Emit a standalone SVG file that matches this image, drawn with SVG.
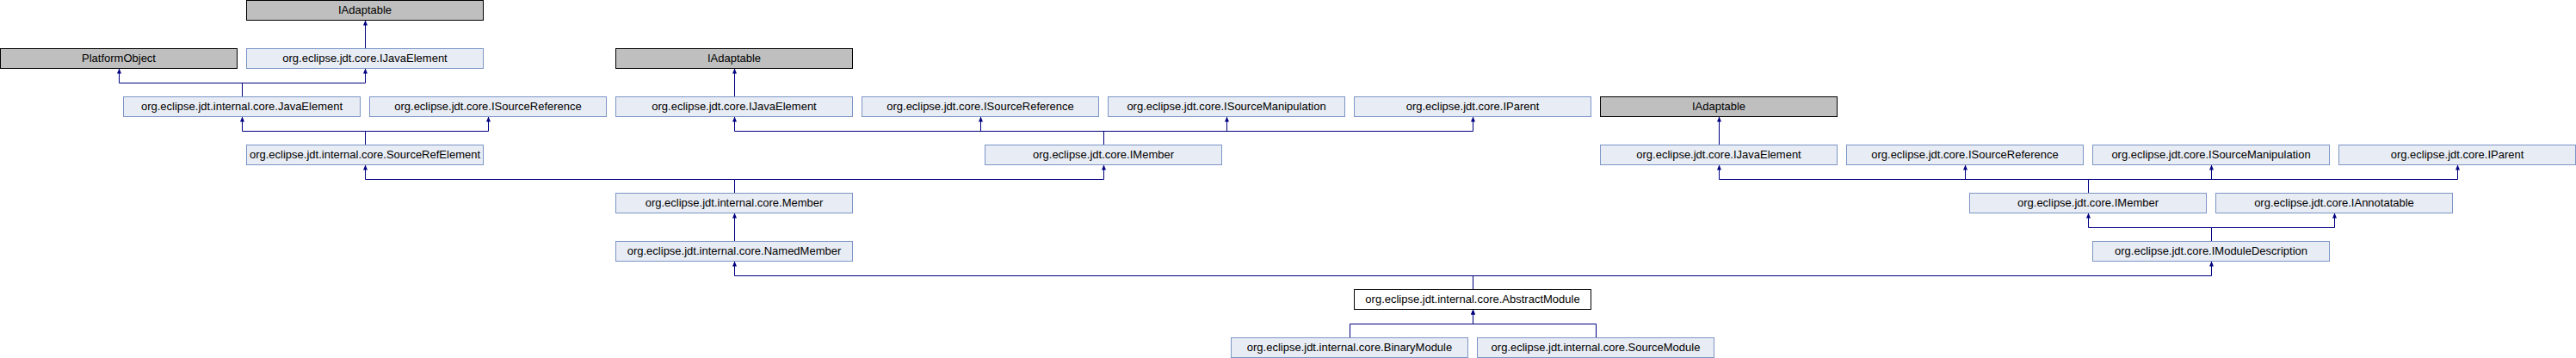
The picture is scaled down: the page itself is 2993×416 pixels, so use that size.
<svg xmlns="http://www.w3.org/2000/svg" width="2993" height="416" viewBox="0 0 2993 416">
<style>
  .n rect { fill: #E8ECF4; stroke: #7C95C6; stroke-width: 1; }
  .g rect { fill: #BFBFBF; stroke: #000000; stroke-width: 1; }
  .c rect { fill: #FFFFFF; stroke: #000000; stroke-width: 1; }
  text { font-family: "Liberation Sans", Arial, sans-serif; font-size: 13px; fill: #000000; text-anchor: middle; }
  .e path { fill: none; stroke: #000080; stroke-width: 1; marker-end: url(#arr); }
</style>
<defs>
  <marker id="arr" viewBox="0 0 6 5" refX="6" refY="2.5" markerWidth="6" markerHeight="5" markerUnits="userSpaceOnUse" orient="auto">
    <path d="M0,0 L6,2.5 L0,5 z" fill="#000080"/>
  </marker>
</defs>
<rect x="0" y="0" width="2993" height="416" fill="#FFFFFF"/>
<g id="connectors" class="e">
  <path d="M424.5,56.5 V23.5"/>
  <path d="M281.5,112.5 V96.5 H138.5 V79.5"/>
  <path d="M281.5,112.5 V96.5 H424.5 V79.5"/>
  <path d="M424.5,168.5 V152.5 H281.5 V135.5"/>
  <path d="M424.5,168.5 V152.5 H567.5 V135.5"/>
  <path d="M853.5,112.5 V79.5"/>
  <path d="M1282.5,168.5 V152.5 H853.5 V135.5"/>
  <path d="M1282.5,168.5 V152.5 H1139.5 V135.5"/>
  <path d="M1282.5,168.5 V152.5 H1425.5 V135.5"/>
  <path d="M1282.5,168.5 V152.5 H1711.5 V135.5"/>
  <path d="M853.5,224.5 V208.5 H424.5 V191.5"/>
  <path d="M853.5,224.5 V208.5 H1282.5 V191.5"/>
  <path d="M853.5,280.5 V247.5"/>
  <path d="M1997.5,168.5 V135.5"/>
  <path d="M2426.5,224.5 V208.5 H1997.5 V191.5"/>
  <path d="M2426.5,224.5 V208.5 H2283.5 V191.5"/>
  <path d="M2426.5,224.5 V208.5 H2569.5 V191.5"/>
  <path d="M2426.5,224.5 V208.5 H2855.5 V191.5"/>
  <path d="M2569.5,280.5 V264.5 H2426.5 V247.5"/>
  <path d="M2569.5,280.5 V264.5 H2712.5 V247.5"/>
  <path d="M1711.5,336.5 V320.5 H853.5 V303.5"/>
  <path d="M1711.5,336.5 V320.5 H2569.5 V303.5"/>
  <path d="M1568.5,392.5 V376.5 H1711.5 V359.5"/>
  <path d="M1854.5,392.5 V376.5 H1711.5 V359.5"/>
</g>
<g id="n_iadaptable_1" class="g"><rect x="286.5" y="0.5" width="275" height="23"/><text x="424" y="16">IAdaptable</text></g>
<g id="n_platformobject" class="g"><rect x="0.5" y="56.5" width="275" height="23"/><text x="138" y="72">PlatformObject</text></g>
<g id="n_ijavaelement_1" class="n"><rect x="286.5" y="56.5" width="275" height="23"/><text x="424" y="72">org.eclipse.jdt.core.IJavaElement</text></g>
<g id="n_iadaptable_2" class="g"><rect x="715.5" y="56.5" width="275" height="23"/><text x="853" y="72">IAdaptable</text></g>
<g id="n_javaelement" class="n"><rect x="143.5" y="112.5" width="275" height="23"/><text x="281" y="128">org.eclipse.jdt.internal.core.JavaElement</text></g>
<g id="n_isourcereference_1" class="n"><rect x="429.5" y="112.5" width="275" height="23"/><text x="567" y="128">org.eclipse.jdt.core.ISourceReference</text></g>
<g id="n_ijavaelement_2" class="n"><rect x="715.5" y="112.5" width="275" height="23"/><text x="853" y="128">org.eclipse.jdt.core.IJavaElement</text></g>
<g id="n_isourcereference_2" class="n"><rect x="1001.5" y="112.5" width="275" height="23"/><text x="1139" y="128">org.eclipse.jdt.core.ISourceReference</text></g>
<g id="n_isourcemanipulation_1" class="n"><rect x="1287.5" y="112.5" width="275" height="23"/><text x="1425" y="128">org.eclipse.jdt.core.ISourceManipulation</text></g>
<g id="n_iparent_1" class="n"><rect x="1573.5" y="112.5" width="275" height="23"/><text x="1711" y="128">org.eclipse.jdt.core.IParent</text></g>
<g id="n_iadaptable_3" class="g"><rect x="1859.5" y="112.5" width="275" height="23"/><text x="1997" y="128">IAdaptable</text></g>
<g id="n_sourcerefelement" class="n"><rect x="286.5" y="168.5" width="275" height="23"/><text x="424" y="184">org.eclipse.jdt.internal.core.SourceRefElement</text></g>
<g id="n_imember_1" class="n"><rect x="1144.5" y="168.5" width="275" height="23"/><text x="1282" y="184">org.eclipse.jdt.core.IMember</text></g>
<g id="n_ijavaelement_3" class="n"><rect x="1859.5" y="168.5" width="275" height="23"/><text x="1997" y="184">org.eclipse.jdt.core.IJavaElement</text></g>
<g id="n_isourcereference_3" class="n"><rect x="2145.5" y="168.5" width="275" height="23"/><text x="2283" y="184">org.eclipse.jdt.core.ISourceReference</text></g>
<g id="n_isourcemanipulation_2" class="n"><rect x="2431.5" y="168.5" width="275" height="23"/><text x="2569" y="184">org.eclipse.jdt.core.ISourceManipulation</text></g>
<g id="n_iparent_2" class="n"><rect x="2717.5" y="168.5" width="275" height="23"/><text x="2855" y="184">org.eclipse.jdt.core.IParent</text></g>
<g id="n_member" class="n"><rect x="715.5" y="224.5" width="275" height="23"/><text x="853" y="240">org.eclipse.jdt.internal.core.Member</text></g>
<g id="n_imember_2" class="n"><rect x="2288.5" y="224.5" width="275" height="23"/><text x="2426" y="240">org.eclipse.jdt.core.IMember</text></g>
<g id="n_iannotatable" class="n"><rect x="2574.5" y="224.5" width="275" height="23"/><text x="2712" y="240">org.eclipse.jdt.core.IAnnotatable</text></g>
<g id="n_namedmember" class="n"><rect x="715.5" y="280.5" width="275" height="23"/><text x="853" y="296">org.eclipse.jdt.internal.core.NamedMember</text></g>
<g id="n_imoduledescription" class="n"><rect x="2431.5" y="280.5" width="275" height="23"/><text x="2569" y="296">org.eclipse.jdt.core.IModuleDescription</text></g>
<g id="n_abstractmodule" class="c"><rect x="1573.5" y="336.5" width="275" height="23"/><text x="1711" y="352">org.eclipse.jdt.internal.core.AbstractModule</text></g>
<g id="n_binarymodule" class="n"><rect x="1430.5" y="392.5" width="275" height="23"/><text x="1568" y="408">org.eclipse.jdt.internal.core.BinaryModule</text></g>
<g id="n_sourcemodule" class="n"><rect x="1716.5" y="392.5" width="275" height="23"/><text x="1854" y="408">org.eclipse.jdt.internal.core.SourceModule</text></g>
</svg>
